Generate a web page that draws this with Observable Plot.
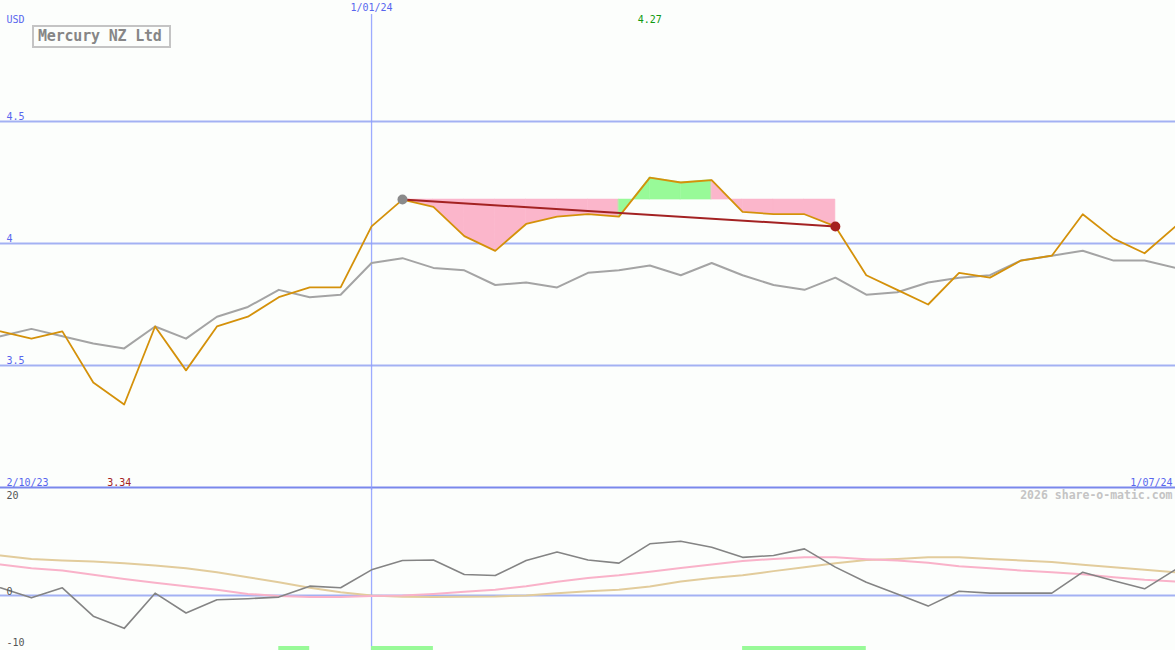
<!DOCTYPE html>
<html>
<head>
<meta charset="utf-8">
<script src="https://cdn.jsdelivr.net/npm/d3@7"></script>
<script src="https://cdn.jsdelivr.net/npm/@observablehq/plot@0.6"></script>
<style>
  html, body { margin: 0; padding: 0; background: #fcfefc; }
  #wrap { position: relative; width: 1175px; height: 650px; background: #fcfefc; overflow: hidden; }
  #topPanel, #bottomPanel { position: absolute; left: 0; }
  #topPanel { top: 0; }
  #bottomPanel { top: 488px; }
  #title { position: absolute; left: 32px; top: 25px; width: 131px; height: 19px; border: 2px solid #c4c4c4;
    font: bold 15px "DejaVu Sans Mono", monospace; color: #868686; line-height: 19px; padding-left: 4px; box-sizing: content-box; letter-spacing: -0.2px; }
  svg { overflow: visible; }
</style>
</head>
<body>
<div id="wrap">
  <div id="topPanel"></div>
  <div id="bottomPanel"></div>
  <div id="title">Mercury NZ Ltd</div>
</div>
<script>
// ---- data (weekly points, index 0..38) ----
const dateLabels = ["2/10/23", "1/01/24", "1/07/24"];
const dateIndex = [0, 12, 38];
const currency = "USD";
const priceTicks = [3.5, 4, 4.5];
const oscTickLabels = [20, 0, -10];

const price = [3.64, 3.61, 3.64, 3.43, 3.34, 3.66, 3.48, 3.66, 3.70, 3.78,
               3.82, 3.82, 4.07, 4.18, 4.15, 4.03, 3.97, 4.08, 4.11, 4.12,
               4.11, 4.27, 4.25, 4.26, 4.13, 4.12, 4.12, 4.07, 3.87, 3.81,
               3.75, 3.88, 3.86, 3.93, 3.95, 4.12, 4.02, 3.96, 4.07];
const average = [3.62, 3.65, 3.62, 3.59, 3.57, 3.66, 3.61, 3.70, 3.74, 3.81,
                 3.78, 3.79, 3.92, 3.94, 3.90, 3.89, 3.83, 3.84, 3.82, 3.88,
                 3.89, 3.91, 3.87, 3.92, 3.87, 3.83, 3.81, 3.86, 3.79, 3.80,
                 3.84, 3.86, 3.87, 3.93, 3.95, 3.97, 3.93, 3.93, 3.90];
const oscillator = [1.45, -0.44, 1.45, -3.9, -6.2, 0.44, -3.3, -0.8, -0.6, -0.3,
                    1.76, 1.45, 4.84, 6.6, 6.7, 3.96, 3.77, 6.6, 8.2, 6.7,
                    6.1, 9.75, 10.25, 9.1, 7.2, 7.55, 8.8, 5.35, 2.5, 0.3,
                    -2.0, 0.8, 0.44, 0.44, 0.44, 4.4, 2.8, 1.26, 4.9];
const signalFast = [5.85, 5.15, 4.7, 3.9, 3.1, 2.4, 1.76, 1.07, 0.3, -0.1,
                    -0.3, -0.3, -0.1, 0.0, 0.3, 0.7, 1.1, 1.76, 2.6, 3.3,
                    3.8, 4.5, 5.2, 5.85, 6.5, 6.9, 7.2, 7.2, 6.85, 6.6,
                    6.2, 5.5, 5.15, 4.7, 4.4, 4.0, 3.45, 2.96, 2.64];
const signalSlow = [7.55, 6.9, 6.6, 6.4, 6.1, 5.66, 5.15, 4.4, 3.45, 2.5,
                    1.45, 0.63, 0.0, -0.25, -0.3, -0.25, -0.2, 0.0, 0.44, 0.8,
                    1.07, 1.7, 2.64, 3.3, 3.8, 4.6, 5.35, 6.1, 6.7, 6.9,
                    7.2, 7.2, 6.9, 6.6, 6.3, 5.8, 5.35, 4.84, 4.4];
const signalBars = [[9, 10], [12, 14], [24, 28]];
const trendStart = 13, trendEnd = 27;

// ---- derived tables ----
const pts = price.map((p, i) => ({i, price: p, average: average[i]}));
const osc = oscillator.map((v, i) => ({i, osc: v, fast: signalFast[i], slow: signalSlow[i]}));
const level = price[trendStart];
const segs = [];
for (let k = trendStart; k < trendEnd; k++) {
  const color = price[k + 1] > level ? "#98fa98" : "#fbb6cb";
  segs.push({x: k, lo: level, hi: price[k], seg: k, color});
  segs.push({x: k + 1, lo: level, hi: price[k + 1], seg: k, color});
}
const trend = [{x: trendStart, y: price[trendStart]}, {x: trendEnd, y: price[trendEnd]}];
const maxI = d3.maxIndex(price), minI = d3.minIndex(price);
const blue = "#5866ee", grid = "#a3b1f3", vgrid = "#8c9cff";
const font = "DejaVu Sans Mono, monospace";

const topChart = Plot.plot({
  width: 1175, height: 490, margin: 0,
  x: {domain: [0, 38], range: [0, 1175], axis: null},
  y: {domain: [3, 5], range: [487, -1], axis: null},
  color: {type: "identity"},
  style: {background: "transparent", fontFamily: font, fontSize: "10px"},
  marks: [
    Plot.ruleY(priceTicks, {stroke: grid, strokeWidth: 2}),
    Plot.ruleY([3], {stroke: "#7a88ec", strokeWidth: 2}),
    Plot.ruleX([dateIndex[1]], {stroke: vgrid, strokeWidth: 1.3, strokeOpacity: 0.85, insetTop: 14}),
    Plot.areaY(segs, {x: "x", y1: "lo", y2: "hi", z: "seg", fill: "color", stroke: "color", strokeWidth: 0.6, curve: "linear"}),
    Plot.line(pts, {x: "i", y: "average", stroke: "#a4a4a4", strokeWidth: 2}),
    Plot.line(pts, {x: "i", y: "price", stroke: "#d4910a", strokeWidth: 1.8}),
    Plot.line(trend, {x: "x", y: "y", stroke: "#a32222", strokeWidth: 2}),
    Plot.dot([trend[0]], {x: "x", y: "y", r: 5, fill: "#8a8a8a"}),
    Plot.dot([trend[1]], {x: "x", y: "y", r: 5, fill: "#a52020"}),
    Plot.text([currency], {frameAnchor: "top-left", dx: 6, dy: 15, lineAnchor: "top", fill: blue}),
    Plot.text(priceTicks, {x: 0, y: d => d, text: d => String(d), dx: 6, dy: -2, textAnchor: "start", lineAnchor: "bottom", fill: blue}),
    Plot.text([dateLabels[1]], {x: dateIndex[1], frameAnchor: "top", dy: 3, lineAnchor: "top", fill: blue}),
    Plot.text([price[maxI].toFixed(2)], {x: maxI, frameAnchor: "top", dy: 15, lineAnchor: "top", fill: "#109a10"}),
    Plot.text([dateLabels[0]], {x: dateIndex[0], frameAnchor: "bottom", dx: 6, dy: -5, textAnchor: "start", lineAnchor: "bottom", fill: blue}),
    Plot.text([price[minI].toFixed(2)], {x: minI, frameAnchor: "bottom", dx: -5, dy: -5, lineAnchor: "bottom", fill: "#a32222"}),
    Plot.text([dateLabels[2]], {x: dateIndex[2], frameAnchor: "bottom", dx: -3, dy: -5, textAnchor: "end", lineAnchor: "bottom", fill: blue})
  ]
});
document.getElementById("topPanel").appendChild(topChart);

const bottomChart = Plot.plot({
  width: 1175, height: 162, margin: 0,
  x: {domain: [0, 38], range: [0, 1175], axis: null},
  y: {domain: [-10, 20], range: [160, 1], axis: null},
  style: {background: "transparent", fontFamily: font, fontSize: "10px"},
  marks: [
    Plot.ruleY([0], {stroke: grid, strokeWidth: 2}),
    Plot.ruleX([dateIndex[1]], {stroke: vgrid, strokeWidth: 1.3, strokeOpacity: 0.85}),
    Plot.rect(signalBars, {x1: d => d[0], x2: d => d[1], insetTop: 158, fill: "#98fa98"}),
    Plot.line(osc, {x: "i", y: "slow", stroke: "#e2cc9c", strokeWidth: 2}),
    Plot.line(osc, {x: "i", y: "fast", stroke: "#f9b2c9", strokeWidth: 2}),
    Plot.line(osc, {x: "i", y: "osc", stroke: "#848484", strokeWidth: 1.6}),
    Plot.text([String(oscTickLabels[0])], {frameAnchor: "top-left", dx: 6, dy: 3, lineAnchor: "top", fill: "#555"}),
    Plot.text([String(oscTickLabels[1])], {x: 0, y: 0, dx: 6, dy: -1, textAnchor: "start", lineAnchor: "bottom", fill: "#555"}),
    Plot.text([String(oscTickLabels[2])], {frameAnchor: "bottom-left", dx: 6, dy: -5, lineAnchor: "bottom", fill: "#555"}),
    Plot.text(["2026 share-o-matic.com"], {frameAnchor: "top-right", dx: -3, dy: 2, lineAnchor: "top", fill: "#c4c4c4", fontSize: 11.5, fontWeight: "bold"})
  ]
});
document.getElementById("bottomPanel").appendChild(bottomChart);
</script>
</body>
</html>
